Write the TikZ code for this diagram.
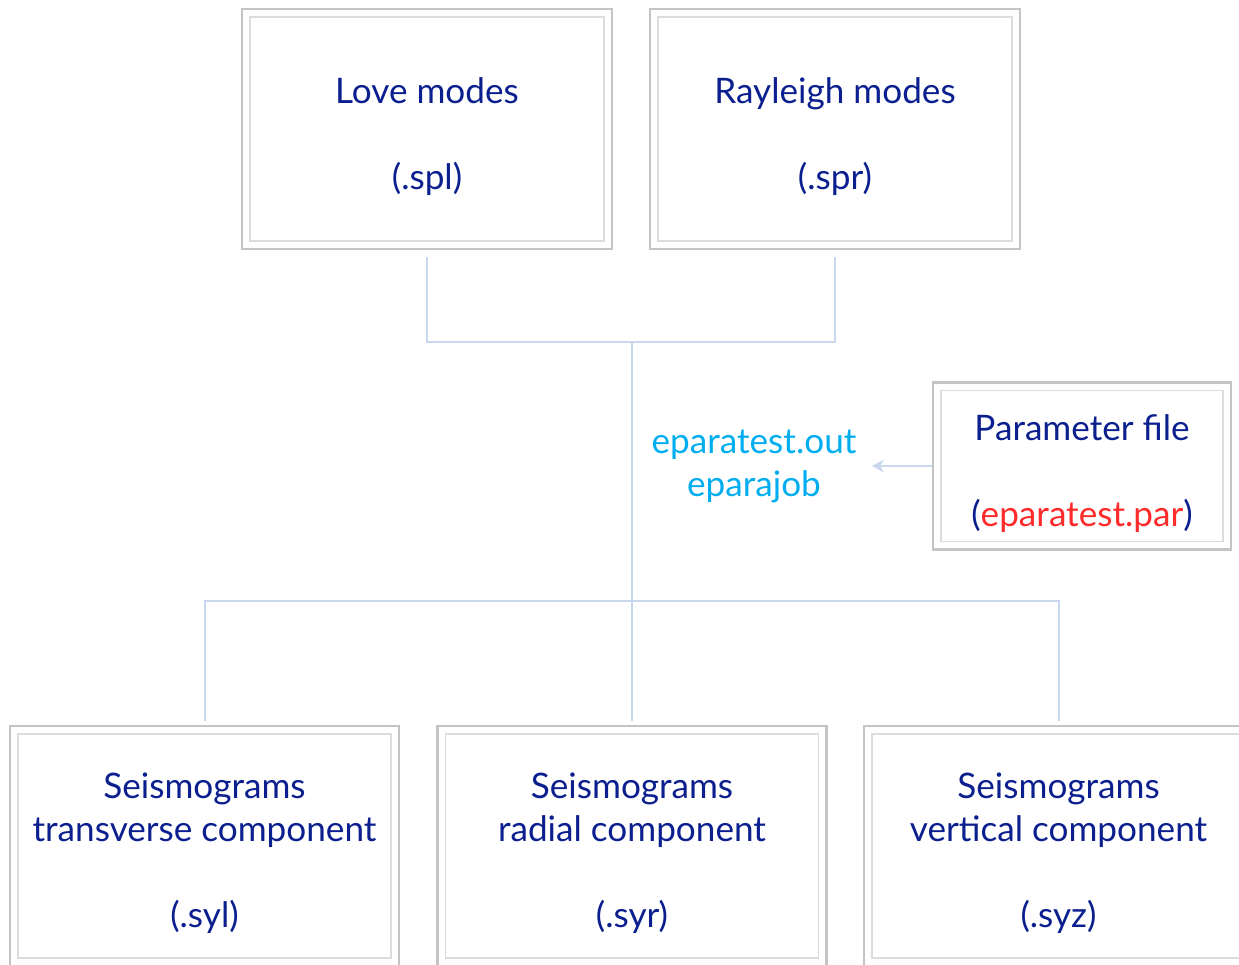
\documentclass[tikz,border=0pt]{standalone}
\usepackage{fontspec}
\setmainfont{Lato}
\usetikzlibrary{arrows.meta, positioning, calc}

\definecolor{boxtext}{HTML}{0B1F8F}
\definecolor{filecyan}{HTML}{00AEEF}
\definecolor{parred}{HTML}{FF2A2A}
\definecolor{linkblue}{HTML}{C9D8EE}
\definecolor{framegray}{HTML}{C4C4C4}
\definecolor{innergray}{HTML}{DCDCDC}

\newcommand{\topgap}{\rule{0pt}{23pt}}

\begin{document}
\begin{tikzpicture}[
  x=0.02cm, y=-0.02cm,
  font=\fontsize{20}{24.5}\selectfont,
  frame/.style={rectangle, draw=framegray, line width=0.05cm, fill=white, text=boxtext, align=center, inner sep=0pt},
  mode/.style={frame, minimum width=7.4cm, minimum height=4.8cm},
  seis/.style={frame, minimum width=7.78cm, minimum height=4.8cm},
  parbox/.style={frame, minimum width=5.96cm, minimum height=3.34cm},
  inner frame/.style={draw=innergray, line width=0.03cm},
  link/.style={draw=linkblue, line width=0.04cm},
  outname/.style={text=filecyan, align=center, inner sep=0pt},
  >={Stealth[length=2.4mm, width=2.6mm, inset=0.8mm]}
]
  \useasboundingbox (0,0) rectangle (1239,964);
  \clip (0,0) rectangle (1239,964);

  % input files
  \node[mode] (love) at (427,129) {\topgap Love modes\\[24.5pt](.spl)};
  \node[mode] (rayl) at (835,129) {\topgap Rayleigh modes\\[24.5pt](.spr)};

  % parameters
  \node[parbox] (par) at (1082,466) {\topgap Parameter file\\[24.5pt](\textcolor{parred}{eparatest.par})};
  \node[outname] (job) at (754,466) {eparatest.out\\eparajob};
  \coordinate (tip) at (872,466);

  % output seismograms
  \node[seis] (trans) at (204.5,846) {\topgap Seismograms\\transverse component\\[24.5pt](.syl)};
  \node[seis] (rad) at (632,846) {\topgap Seismograms\\radial component\\[24.5pt](.syr)};
  \node[seis] (vert) at (1058.5,846) {\topgap Seismograms\\vertical component\\[24.5pt](.syz)};

  \foreach \n in {love, rayl, par, trans, rad, vert}
    \draw[inner frame] ($(\n.south west)+(9,-9)$) rectangle ($(\n.north east)+(-9,9)$);

  \coordinate (join) at (632,342);
  \coordinate (split) at (632,601);

  \draw[link] ([yshift=-4pt]love.south) |- (join) -| ([yshift=-4pt]rayl.south);
  \draw[link] (join) -- ([yshift=2pt]rad.north);
  \draw[link] ([yshift=2pt]trans.north) |- (split) -| ([yshift=2pt]vert.north);
  \draw[link, ->] (par.west) -- (tip);
\end{tikzpicture}
\end{document}
